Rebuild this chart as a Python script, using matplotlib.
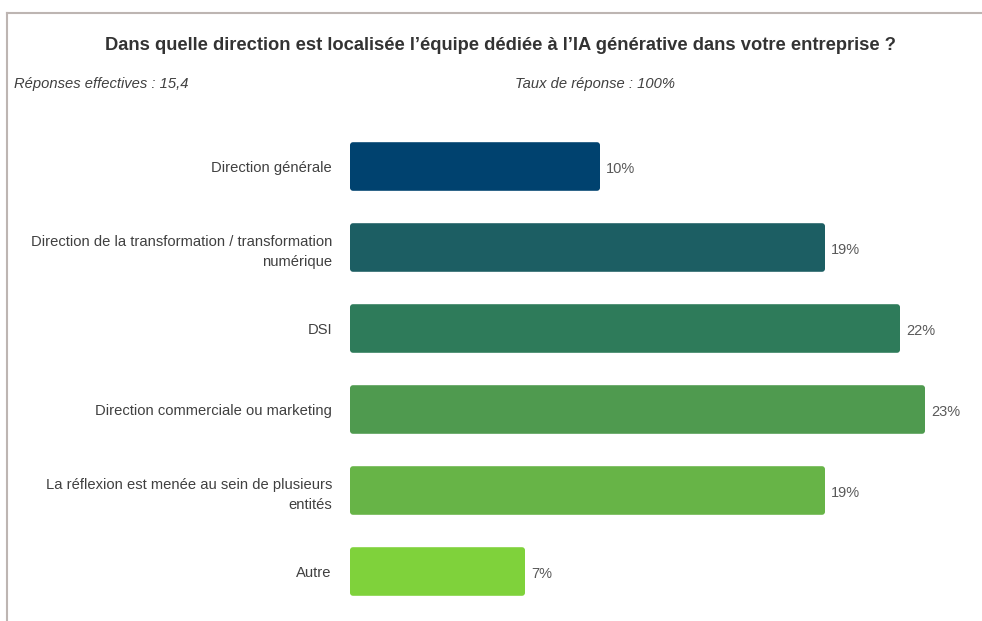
import matplotlib.pyplot as plt
from matplotlib.patches import FancyBboxPatch
from matplotlib.lines import Line2D

plt.rcParams["font.family"] = ["Liberation Sans", "DejaVu Sans"]

# Données du graphique
categories = [
    "Direction générale",
    "Direction de la transformation / transformation\nnumérique",
    "DSI",
    "Direction commerciale ou marketing",
    "La réflexion est menée au sein de plusieurs\nentités",
    "Autre",
]
valeurs = [10, 19, 22, 23, 19, 7]
couleurs = ["#00426f", "#1c5e63", "#2e7b5a", "#4f9a4f", "#67b447", "#7fd23b"]

titre = "Dans quelle direction est localisée l’équipe dédiée à l’IA générative dans votre entreprise ?"
reponses = "Réponses effectives : 15,4"
taux = "Taux de réponse : 100%"

fig = plt.figure(figsize=(9.82, 6.21), dpi=100)
ax = fig.add_axes([350 / 982, 9 / 621, 632 / 982, 486 / 621])

pos = list(range(len(categories)))
barres = ax.barh(pos, valeurs, height=0.6, color=couleurs)

# Coins légèrement arrondis
for b in barres:
    x0, y0 = b.get_x(), b.get_y()
    w, h = b.get_width(), b.get_height()
    b.set_visible(False)
    ax.add_patch(FancyBboxPatch((x0, y0), w, h,
                                boxstyle="round,pad=0,rounding_size=0.12",
                                mutation_aspect=0.31,
                                facecolor=b.get_facecolor(), edgecolor="none"))

for p, v in zip(pos, valeurs):
    ax.text(v + 0.25, p + 0.03, f"{v}%", va="center", ha="left",
            fontsize=10.5, color="#595959")

ax.set_xlim(0, 632 / 25)
ax.set_ylim(len(categories) - 0.5, -0.5)
ax.set_yticks(pos)
ax.set_yticklabels(categories, fontsize=10.6, color="#404040",
                   multialignment="right", linespacing=1.55)
ax.tick_params(axis="y", length=0, pad=13)
ax.set_xticks([])
for s in ax.spines.values():
    s.set_visible(False)

fig.text(500 / 982, 1 - 45 / 621, titre, ha="center", va="center",
         fontsize=13.2, fontweight="bold", color="#333333")
fig.text(14 / 982, 1 - 84 / 621, reponses, ha="left", va="center",
         fontsize=10.6, style="italic", color="#404040")
fig.text(515 / 982, 1 - 84 / 621, taux, ha="left", va="center",
         fontsize=10.6, style="italic", color="#404040")

# Cadre gris en haut et à gauche
yb = 1 - 13 / 621
xb = 7 / 982
fig.add_artist(Line2D([xb, 1], [yb, yb], color="#bdb5b2", lw=1.5))
fig.add_artist(Line2D([xb, xb], [0, yb], color="#bdb5b2", lw=1.5))

fig.savefig("out.png", dpi=100)
